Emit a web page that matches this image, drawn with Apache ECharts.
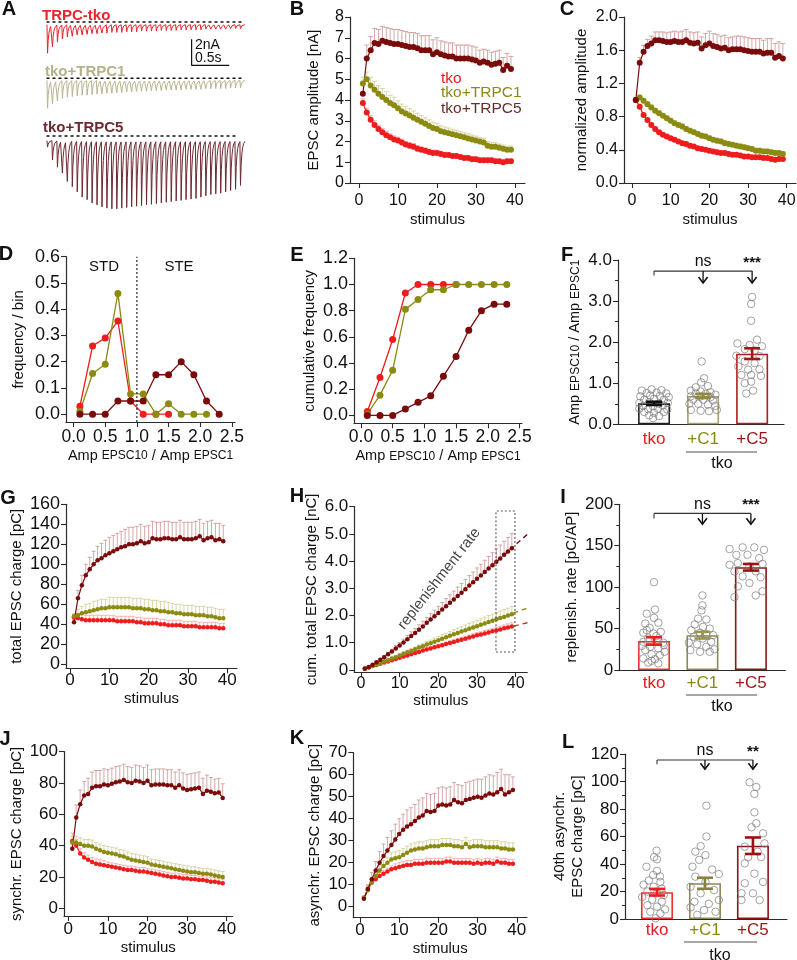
<!DOCTYPE html>
<html><head><meta charset="utf-8">
<script src="https://cdn.jsdelivr.net/npm/echarts@6/dist/echarts.min.js"></script>
<style>html,body{margin:0;padding:0;background:#fff}#c{width:797px;height:960px}</style>
</head><body><div id="c"></div>
<script>
// ---------------- DATA ----------------
const stimulus = Array.from({length: 39}, (_, i) => i + 1);
const groups = ['tko', '+C1', '+C5'];

// A: representative traces, peak current per stimulus (nA, below baseline)
const traceTkoPeaks = [2.4,1.9,1.55,1.3,1.15,1.1,1.0,1.0,0.95,0.9,0.9,0.85,0.85,0.8,0.8,0.8,0.75,0.75,0.75,0.7,0.7,0.7,0.7,0.65,0.65,0.65,0.65,0.6,0.6,0.6,0.6,0.6,0.55,0.55,0.55,0.55,0.55,0.5,0.5,0.5];
const traceC1Peaks = [2.3,1.95,1.75,1.55,1.45,1.4,1.35,1.3,1.3,1.25,1.2,1.2,1.15,1.15,1.1,1.1,1.05,1.05,1.0,1.0,1.0,0.95,0.95,0.95,0.9,0.9,0.9,0.9,0.85,0.85,0.85,0.85,0.8,0.8,0.8,0.8,0.8,0.75,0.75,0.75];
const traceC5Peaks = [0.85,1.85,2.4,2.85,3.5,3.9,4.3,4.7,4.9,5.15,5.3,5.45,5.55,5.6,5.6,5.55,5.5,5.45,5.4,5.35,5.3,5.25,5.2,5.15,5.1,5.05,5.0,4.95,4.9,4.85,4.8,4.7,4.6,4.5,4.45,4.4,4.3,4.2,4.1,3.8];
const traceBaselines = [-0.2, -0.15, -0.35];
const epscShape = [0, 1, 0.55, 0.3, 0.16, 0.07, 0.02];
const epscTime = [0, 0.12, 0.25, 0.4, 0.55, 0.75, 1.0];
const scaleBarAmp = 2, scaleBarDur = 0.5;

// B: EPSC amplitude (nA)
const ampTko = [3.85,3.4,3.05,2.8,2.6,2.45,2.3,2.2,2.1,2.05,1.95,1.85,1.8,1.75,1.65,1.6,1.55,1.5,1.45,1.45,1.4,1.35,1.35,1.3,1.3,1.25,1.2,1.2,1.15,1.15,1.1,1.1,1.1,1.1,1.05,1.05,1.0,1.05,1.05];
const ampTkoErr = [0.2,0.2,0.2,0.2,0.18,0.18,0.18,0.17,0.17,0.16,0.16,0.15,0.15,0.15,0.15,0.14,0.14,0.14,0.13,0.13,0.13,0.13,0.12,0.12,0.12,0.12,0.12,0.12,0.11,0.11,0.11,0.11,0.11,0.11,0.1,0.1,0.1,0.1,0.1];
const ampC1 = [4.8,5.0,4.7,4.5,4.3,4.15,4.0,3.85,3.75,3.6,3.45,3.35,3.25,3.15,3.05,2.95,2.85,2.75,2.65,2.6,2.5,2.45,2.4,2.35,2.3,2.25,2.2,2.15,2.1,2.05,2.0,1.95,1.8,1.75,1.75,1.7,1.65,1.6,1.6];
const ampC1Err = [0.3,0.35,0.4,0.4,0.4,0.4,0.4,0.38,0.38,0.36,0.35,0.34,0.33,0.32,0.31,0.3,0.3,0.29,0.28,0.27,0.26,0.25,0.25,0.24,0.24,0.23,0.22,0.22,0.21,0.21,0.2,0.2,0.2,0.19,0.19,0.18,0.18,0.18,0.18];
const ampC5 = [4.3,6.0,6.4,6.75,6.7,6.85,6.8,6.75,6.7,6.7,6.65,6.6,6.55,6.55,6.5,6.4,6.4,6.4,6.2,6.3,6.2,6.15,6.1,6.1,6.0,6.0,6.0,6.0,5.95,5.9,5.8,5.85,5.8,5.7,5.75,5.8,5.45,5.65,5.5];
const ampC5Err = [0.05,0.65,0.65,0.7,0.7,0.7,0.7,0.7,0.7,0.7,0.7,0.7,0.7,0.7,0.7,0.7,0.7,0.7,0.7,0.7,0.65,0.65,0.65,0.65,0.65,0.65,0.65,0.65,0.65,0.65,0.6,0.6,0.6,0.6,0.6,0.6,0.6,0.6,0.6];

// C: normalized amplitude
const normTko = [1.0,0.92,0.82,0.76,0.70,0.65,0.61,0.58,0.56,0.54,0.52,0.50,0.48,0.47,0.45,0.44,0.42,0.41,0.40,0.39,0.38,0.37,0.36,0.36,0.35,0.34,0.34,0.33,0.32,0.32,0.31,0.31,0.31,0.30,0.30,0.29,0.28,0.29,0.29];
const normTkoErr = [0.01,0.02,0.02,0.02,0.02,0.02,0.02,0.02,0.02,0.02,0.02,0.02,0.02,0.02,0.02,0.02,0.02,0.02,0.02,0.02,0.02,0.02,0.02,0.02,0.02,0.02,0.02,0.02,0.02,0.02,0.02,0.02,0.02,0.02,0.02,0.02,0.02,0.02,0.02];
const normC1 = [1.0,1.03,0.99,0.95,0.91,0.87,0.84,0.81,0.78,0.75,0.72,0.70,0.68,0.65,0.63,0.61,0.59,0.57,0.56,0.54,0.52,0.51,0.50,0.48,0.47,0.46,0.45,0.44,0.43,0.42,0.41,0.39,0.39,0.38,0.38,0.37,0.36,0.36,0.35];
const normC1Err = [0.01,0.03,0.03,0.03,0.03,0.03,0.03,0.03,0.03,0.03,0.03,0.03,0.03,0.03,0.03,0.03,0.03,0.03,0.03,0.03,0.03,0.03,0.03,0.03,0.03,0.03,0.03,0.03,0.03,0.03,0.03,0.03,0.03,0.03,0.03,0.03,0.03,0.03,0.03];
const normC5 = [1.0,1.45,1.58,1.65,1.68,1.72,1.72,1.71,1.70,1.70,1.71,1.70,1.70,1.72,1.69,1.68,1.69,1.62,1.66,1.68,1.65,1.64,1.62,1.63,1.60,1.61,1.61,1.61,1.60,1.59,1.58,1.58,1.58,1.56,1.57,1.57,1.51,1.53,1.50];
const normC5Err = [0.01,0.06,0.08,0.08,0.09,0.1,0.1,0.11,0.11,0.12,0.12,0.12,0.13,0.13,0.13,0.13,0.13,0.14,0.14,0.15,0.15,0.15,0.15,0.15,0.15,0.15,0.16,0.16,0.16,0.16,0.16,0.16,0.16,0.16,0.17,0.17,0.17,0.17,0.18];

// D, E: frequency distributions of Amp EPSC10 / Amp EPSC1
const binCenters = [0.1,0.3,0.5,0.7,0.9,1.1,1.3,1.5,1.7,1.9,2.1,2.3];
const freqTko = [0.03,0.26,0.29,0.355,0.05,0.0,0.0,0.0];
const freqC1 = [0.01,0.155,0.19,0.46,0.077,0.077,0.0,0.04,0.0,0.0,0.0];
const freqC5 = [0,0,0,0.05,0.05,0.05,0.15,0.15,0.2,0.15,0.05,0.0];
const cumTko = [0.03,0.29,0.58,0.935,1.0,1.0,1.0,1.0];
const cumC1 = [0.01,0.155,0.345,0.81,0.885,0.96,0.96,1.0,1.0,1.0,1.0,1.0];
const cumC5 = [0,0,0,0.05,0.1,0.15,0.3,0.45,0.65,0.8,0.85,0.85];

// F: Amp EPSC10 / Amp EPSC1 per cell  ([group position, value])
const ratioMean = [0.51, 0.69, 1.72];
const ratioSem = [0.04, 0.05, 0.13];
const ratioTko = [[0.75,0.82],[0.95,0.85],[1.15,0.83],[0.85,0.76],[1.05,0.77],[1.25,0.75],[0.72,0.68],[0.92,0.7],[1.12,0.69],[1.3,0.66],[0.8,0.6],[1.0,0.62],[1.2,0.6],[0.7,0.52],[0.9,0.54],[1.1,0.5],[1.28,0.52],[0.78,0.45],[0.98,0.44],[1.18,0.46],[0.7,0.38],[0.88,0.37],[1.08,0.38],[1.27,0.36],[0.8,0.3],[1.0,0.28],[1.2,0.3],[0.9,0.22],[1.1,0.2],[0.98,0.15]];
const ratioC1 = [[1.97,1.53],[2.02,1.12],[1.96,1.02],[1.85,0.9],[2.1,0.93],[1.75,0.82],[1.95,0.8],[2.15,0.78],[1.85,0.75],[2.05,0.74],[2.25,0.72],[1.75,0.68],[1.95,0.68],[2.15,0.66],[1.8,0.6],[2.0,0.6],[2.2,0.58],[1.72,0.5],[1.9,0.5],[2.1,0.48],[2.25,0.45],[1.75,0.35],[1.95,0.33],[2.12,0.32],[2.28,0.35]];
const ratioC5 = [[3.0,3.10],[2.98,2.93],[2.98,2.52],[3.1,2.06],[2.7,1.97],[2.95,1.93],[3.2,1.9],[2.85,1.83],[3.05,1.8],[2.68,1.67],[3.15,1.66],[2.85,1.53],[3.05,1.49],[2.72,1.41],[3.15,1.34],[2.92,1.33],[2.78,1.2],[2.98,1.2],[3.18,1.18],[2.98,1.04],[2.85,1.0],[3.02,0.82],[2.88,0.75]];

// G: total EPSC charge (pC)
const totTko = [47,46,45,44,44,44,44,44,44,44,44,43,43,43,43,43,42,42,41,41,41,41,40,40,39,39,39,39,38,38,38,38,37,37,37,37,37,36,36];
const totTkoErr = [3,5,5,5,5,5,5,5,5,5,5,5,5,5,5,5,5,5,5,5,5,5,5,5,5,5,5,5,5,5,5,5,5,5,5,5,5,5,5];
const totC1 = [48,49,51,52,53,54,55,56,56,57,57,57,57,57,57,56,56,56,55,55,54,54,53,53,52,52,51,51,50,50,50,49,49,49,48,48,47,46,46];
const totC1Err = [3,6,7,8,8,9,9,9,9,10,10,10,10,10,10,10,10,10,10,10,10,10,10,10,10,9,9,9,9,9,9,9,9,9,9,9,9,9,9];
const totC5 = [42,66,79,89,95,100,104,106,109,111,113,115,117,118,120,120,121,123,121,122,126,125,125,126,126,125,125,127,125,125,125,126,128,124,126,127,124,125,123];
const totC5Err = [3,8,10,11,12,13,14,15,15,16,16,16,16,17,17,17,17,17,17,17,17,17,17,17,17,17,17,17,17,17,17,17,17,17,17,17,17,16,16];

// H: cumulative total EPSC charge (nC)
const cumChTko = [0.05,0.09,0.14,0.18,0.23,0.27,0.31,0.36,0.40,0.45,0.49,0.53,0.58,0.62,0.66,0.71,0.75,0.79,0.83,0.87,0.91,0.95,0.99,1.03,1.07,1.11,1.15,1.19,1.23,1.27,1.30,1.34,1.38,1.42,1.45,1.49,1.53,1.56,1.60];
const cumChTkoErr = [0.005,0.01,0.01,0.01,0.02,0.02,0.02,0.03,0.03,0.03,0.04,0.04,0.04,0.05,0.05,0.05,0.06,0.06,0.06,0.07,0.07,0.07,0.08,0.08,0.08,0.09,0.09,0.09,0.1,0.1,0.1,0.11,0.11,0.11,0.12,0.12,0.12,0.13,0.13];
const cumChC1 = [0.05,0.10,0.15,0.20,0.25,0.31,0.36,0.42,0.47,0.53,0.59,0.65,0.70,0.76,0.82,0.87,0.93,0.98,1.04,1.09,1.15,1.20,1.26,1.31,1.36,1.41,1.46,1.51,1.56,1.61,1.66,1.71,1.76,1.81,1.86,1.91,1.95,2.00,2.05];
const cumChC1Err = [0.005,0.01,0.02,0.02,0.03,0.04,0.04,0.05,0.06,0.06,0.07,0.08,0.09,0.09,0.1,0.11,0.12,0.12,0.13,0.14,0.15,0.15,0.16,0.17,0.18,0.18,0.19,0.2,0.21,0.21,0.22,0.23,0.24,0.24,0.25,0.26,0.27,0.27,0.28];
const cumChC5 = [0.04,0.11,0.19,0.28,0.37,0.47,0.58,0.68,0.79,0.90,1.01,1.13,1.25,1.36,1.48,1.60,1.73,1.85,1.97,2.09,2.22,2.34,2.47,2.59,2.72,2.84,2.97,3.10,3.22,3.35,3.47,3.60,3.73,3.85,3.98,4.10,4.23,4.35,4.47];
const cumChC5Err = [0.005,0.02,0.03,0.04,0.05,0.06,0.07,0.08,0.1,0.11,0.12,0.14,0.15,0.16,0.18,0.19,0.2,0.22,0.23,0.25,0.26,0.28,0.29,0.31,0.32,0.34,0.35,0.37,0.38,0.4,0.41,0.43,0.44,0.46,0.47,0.49,0.5,0.52,0.54];
const replenFit = {tko: [[35,1.45],[43.7,1.76]], c1: [[35,1.86],[43.7,2.31]], c5: [[35,3.98],[43.7,5.07]]};
const steadyWindow = [34.9, 39.8, 0.66, 5.84];

// I: replenishment rate (pC/AP)
const replMean = [35, 42, 124];
const replSem = [4.5, 4, 4];
const replTko = [[1.0,106],[1.02,73],[0.85,68],[1.0,63],[1.09,57],[0.82,56],[0.91,51],[1.14,46],[0.78,45],[0.99,44],[0.88,38],[1.09,36],[0.78,34],[1.19,33],[0.92,28],[1.09,26],[0.82,24],[1.22,22],[0.95,19],[1.12,18],[0.78,14],[1.02,13],[0.88,9],[1.09,8],[0.95,11],[1.2,30],[0.75,29],[1.05,41],[0.85,48]];
const replC1 = [[2.0,90],[2.0,78],[1.98,72],[1.91,62],[2.08,61],[1.84,55],[2.01,52],[2.15,50],[1.77,48],[1.95,45],[2.08,43],[2.22,42],[1.82,40],[2.01,38],[2.18,34],[1.72,33],[1.89,31],[2.08,28],[2.25,25],[1.75,24],[1.95,22],[2.15,22]];
const replC5 = [[2.56,146],[2.83,148],[3.07,148],[3.27,145],[2.7,139],[2.93,139],[3.17,135],[2.73,129],[2.56,127],[3.24,128],[2.97,125],[2.66,119],[3.1,119],[2.83,113],[3.2,112],[2.97,105],[2.73,101],[3.24,95],[2.66,88],[3.1,90]];

// J: synchronous EPSC charge (pC)
const synTko = [43,40,35,32.5,31,29.5,28.5,28,27.5,27,26.5,26,25.5,25,24.5,24.5,24,23.5,23.5,23,22.5,22,21.5,21,20.5,20,20,19.5,19,19,18.5,18.5,18,18,17.5,17,17,16.5,16];
const synTkoErr = [5,4,3,3,3,3,3,3,3,2.5,2.5,2.5,2.5,2.5,2.5,2.5,2.5,2.5,2.5,2.5,2.5,2.5,2.5,2.5,2.5,2.5,2.5,2.5,2.5,2.5,2.5,2.5,2.5,2.5,2.5,2.5,2.5,2.5,2.5];
const synC1 = [42,42,41,40,40,39.5,38,37,36,35.5,35,34.5,33.5,33,32,31,30.5,30,29.5,29,28,27.5,27,26.5,26,25.5,25,24.5,24,23.5,23,23,22.5,22,22,21.5,21,20.5,20];
const synC1Err = [4,4,4,4,4,4,4,4,4,4,4,4,4,4,4,4,4,4,4,4,3.5,3.5,3.5,3.5,3.5,3.5,3.5,3.5,3.5,3.5,3.5,3.5,3.5,3.5,3.5,3.5,3.5,3.5,3.5];
const synC5 = [38,58,66.5,72,73,77,78,78,79,78.5,79.5,80.5,81,82,80.5,80,81.5,81,80,81.5,78.5,79,79,79,78.5,78.5,77,78.5,76.5,75.5,76,76.5,77,73,75,74.5,73.5,74,70.5];
const synC5Err = [4,8,9,9,10,10,10,10,10,10,10,10,10,10,10,10,10,10,10,10,10,10,10,10,10,10,10,10,10,10,10,10,10,10,10,9,9,9,9];

// K: asynchronous EPSC charge (pC)
const asyTko = [4,8,11,12.5,14,15,16,17,17.5,18,18.5,19,19,19.5,19.5,19.5,20,20,20,20,20,20.5,20.5,20,20,20,20,20,19.5,20,19.5,20,20,19.5,20.5,20,20,19.5,19.5];
const asyTkoErr = [1,1.5,1.5,1.5,1.5,1.5,1.5,1.5,2,2,2,2,2,2,2,2,2,2,2,2,2,2,2,2,2,2,2,2,2,2,2,2,2,2,2,2,2,2,2];
const asyC1 = [4,7.5,11,14,16.5,18.5,20,21.5,22,22.5,23.5,24.5,25.5,26,26.5,26.5,27,27.5,27.5,27.5,28,28,28,27.5,27.5,27,28.5,27,27.5,27.5,27.5,27,27,27,27,26.5,26.5,26,26];
const asyC1Err = [1,2,2,2.5,2.5,2.5,2.5,3,3,3,3,3,3,3,3,3,3,3,3,3,3,3,3,3,3,3,3,3,3,3,3,3,3,3,3,3,3,3,3];
const asyC5 = [3.6,8,12.5,16.5,20,23,25.5,28,30.5,33,35,36.5,37.5,39,40.5,41.5,43.5,43,43.5,46,46.5,46,46.5,48.5,47.5,47,48.5,49,49.5,50,49.5,50.5,51.5,51,52,53.5,51,52,53];
const asyC5Err = [1,2,3,4,5,5.5,6,6.5,7,7,7,7.5,7.5,7.5,8,8,8,8,8,8,8,8,8,8,8,8,8,8,8,8,8.5,8.5,8.5,8.5,9,9,9,8,6];

// L: 40th asynchronous EPSC charge (pC)
const async40Mean = [19.5, 26, 53.3];
const async40Sem = [2.4, 4, 6];
const async40Tko = [[0.99,49.7],[0.94,45],[1.0,43.4],[0.78,38],[1.0,35],[0.92,32],[1.06,31],[0.83,28],[1.07,27],[0.72,25],[0.93,23.5],[1.1,22],[0.8,20],[1.0,18.7],[1.14,17.5],[0.69,16],[0.9,14],[1.1,12.6],[0.8,10],[1.0,9],[1.17,7],[0.86,5.3],[1.07,4],[0.97,0.5]];
const async40C1 = [[2.03,82.4],[2.03,60],[1.91,53],[1.8,49],[2.01,46.5],[1.88,43],[1.74,38],[2.15,36],[2.29,32.7],[1.8,30.8],[2.01,27],[1.7,23.5],[2.19,21],[1.91,18.7],[2.29,13.8],[1.78,12.6],[2.08,11],[1.7,8.5],[1.98,6.5],[2.22,5.3],[1.84,3]];
const async40C5 = [[2.93,99.4],[3.07,96],[3.03,91],[3.03,77.6],[3.07,69.6],[2.97,66.7],[3.21,62.3],[3.24,55],[2.83,52.6],[3.1,49],[2.9,45],[3.17,45],[2.83,40.5],[3.03,33],[2.83,26],[3.21,27],[2.76,18.7],[3.0,18.7],[2.76,13.8],[3.14,13.8]];

// ---------------- STYLE ----------------
const FONT = '"Liberation Sans", Arial, Helvetica, sans-serif';
const AX = '#2a2a2a';
const COL = {tko: '#ee1d1d', c1: '#8b8b12', c5: '#7a0b0b'};
const ECOL = {tko: '#f3a4a4', c1: '#cfcd95', c5: '#c99292'};
const TRACE = {tko: '#e8242c', c1: '#b9b58e', c5: '#6c2a30'};
const LBL = {tko: '#e81a1a', c1: '#8a8a10', c5: '#9c1414'};
const ratioName = '{a|Amp }{b|EPSC10}{a| / Amp }{b|EPSC1}';
const ratioRich = {a: {fontSize: 14.5, fontFamily: FONT, color: '#111'}, b: {fontSize: 12, fontFamily: FONT, color: '#111'}};

const grids = [], xAxes = [], yAxes = [], series = [], graphics = [];

function addGrid(l, t, w, h) {
  grids.push({left: l, top: t, width: w, height: h, containLabel: false, outerBoundsMode: 'none'});
  return grids.length - 1;
}
function valAxis(gi, o) {
  const a = {
    type: 'value', gridIndex: gi, min: o.min, max: o.max,
    axisLine: {show: true, onZero: false, lineStyle: {color: AX, width: 1.2}},
    axisTick: {show: !o.noTick, length: 5, lineStyle: {color: AX, width: 1.1}},
    axisLabel: {margin: o.margin == null ? 6 : o.margin, color: '#111', fontSize: o.fs || 16, fontFamily: FONT},
    splitLine: {show: false},
    name: o.name || '', nameLocation: 'middle', nameGap: o.gap || 20,
    nameTextStyle: {color: '#111', fontSize: 15, fontFamily: FONT, lineHeight: 18}
  };
  if (o.nameRich) a.nameTextStyle.rich = o.nameRich;
  if (o.fmt) a.axisLabel.formatter = o.fmt;
  if (o.rich) a.axisLabel.rich = o.rich;
  if (o.vals) { a.axisTick.customValues = o.vals; a.axisLabel.customValues = o.vals; }
  if (o.interval) a.interval = o.interval;
  if (o.minor) a.minorTick = {show: true, splitNumber: 2, length: 3, lineStyle: {color: AX, width: 1}};
  return a;
}
function hiddenAxis(gi, min, max) { return {type: 'value', gridIndex: gi, min, max, show: false}; }

function lineDots(gi, xs, ys, color, size, lw) {
  return {type: 'line', xAxisIndex: gi, yAxisIndex: gi, data: xs.map((x, i) => [x, ys[i]]),
    symbol: 'circle', symbolSize: size, showSymbol: true, showAllSymbol: true,
    lineStyle: {color, width: lw}, itemStyle: {color, borderWidth: 0}, z: 4, silent: true};
}
function errBars(gi, xs, ys, es, color, cap) {
  return {type: 'custom', xAxisIndex: gi, yAxisIndex: gi, silent: true, z: 2,
    data: xs.map((x, i) => [x, ys[i], es[i]]), encode: {x: 0, y: 1},
    renderItem(params, api) {
      const x = api.value(0), y = api.value(1), e = api.value(2);
      const a = api.coord([x, y]), b = api.coord([x, y + e]);
      return {type: 'group', children: [
        {type: 'line', shape: {x1: a[0], y1: a[1], x2: b[0], y2: b[1]}, style: {stroke: color, lineWidth: 0.8}},
        {type: 'line', shape: {x1: b[0] - cap, y1: b[1], x2: b[0] + cap, y2: b[1]}, style: {stroke: color, lineWidth: 0.8}}
      ]};
    }};
}
function plainLine(gi, pts, color, width, type) {
  return {type: 'line', xAxisIndex: gi, yAxisIndex: gi, data: pts, symbol: 'none', silent: true, clip: false,
    lineStyle: {color, width, type: type || 'solid'}, z: 5};
}
function barPanel(gi, means, sems, dotsArr, borders, semCols) {
  series.push({type: 'bar', xAxisIndex: gi, yAxisIndex: gi, barWidth: 32, silent: true, z: 2,
    data: means.map((m, i) => ({value: [i + 1, m], itemStyle: {color: '#fff', borderColor: borders[i], borderWidth: 1.6}}))});
  series.push({type: 'scatter', xAxisIndex: gi, yAxisIndex: gi, silent: true, z: 3,
    data: [].concat(...dotsArr), symbolSize: 7.5,
    itemStyle: {color: 'rgba(255,255,255,0)', borderColor: '#7d7d7d', borderWidth: 0.9}});
  series.push({type: 'custom', xAxisIndex: gi, yAxisIndex: gi, silent: true, z: 4,
    data: means.map((m, i) => [i + 1, m, sems[i], i]), encode: {x: 0, y: 1},
    renderItem(params, api) {
      const x = api.value(0), m = api.value(1), s = api.value(2), c = semCols[api.value(3)];
      const t = api.coord([x, m + s]), b = api.coord([x, m - s]);
      const st = {stroke: c, lineWidth: 2.6};
      return {type: 'group', children: [
        {type: 'line', shape: {x1: t[0], y1: t[1], x2: b[0], y2: b[1]}, style: st},
        {type: 'line', shape: {x1: t[0] - 8, y1: t[1], x2: t[0] + 8, y2: t[1]}, style: st},
        {type: 'line', shape: {x1: b[0] - 8, y1: b[1], x2: b[0] + 8, y2: b[1]}, style: st}
      ]};
    }});
}
function sigMarks(gi, level, tick, tip, marks) {
  series.push({type: 'custom', xAxisIndex: gi, yAxisIndex: gi, silent: true, z: 6, clip: false,
    data: [[1, level]], encode: {x: 0, y: 1},
    renderItem(params, api) {
      const L = api.coord([1, level]), R = api.coord([3, level]), T = api.coord([1, tick]);
      const st = {stroke: '#333', lineWidth: 1.1};
      const ch = [
        {type: 'line', shape: {x1: T[0], y1: T[1], x2: L[0], y2: L[1]}, style: st},
        {type: 'line', shape: {x1: L[0], y1: L[1], x2: R[0], y2: R[1]}, style: st}
      ];
      marks.forEach(mk => {
        const a = api.coord([mk.x, level]), b = api.coord([mk.x, tip]);
        ch.push({type: 'line', shape: {x1: a[0], y1: a[1], x2: b[0], y2: b[1]}, style: {stroke: '#111', lineWidth: 1.3}});
        ch.push({type: 'polyline', shape: {points: [[b[0] - 4.5, b[1] - 6], [b[0], b[1]], [b[0] + 4.5, b[1] - 6]]},
          style: {stroke: '#111', lineWidth: 1.6, fill: 'none'}});
        ch.push({type: 'text', x: a[0], y: a[1] - 1,
          style: {text: mk.text, fill: '#111', font: (mk.bold ? 'bold 15px ' : '16px ') + FONT,
            align: 'center', verticalAlign: 'bottom', textAlign: 'center', textVerticalAlign: 'bottom'}});
      });
      return {type: 'group', children: ch};
    }});
}
function txt(x, y, s, o) {
  graphics.push({type: 'text', x, y, silent: true,
    style: Object.assign({text: s, fill: '#111', font: '15px ' + FONT,
      align: 'left', verticalAlign: 'middle', textAlign: 'left', textVerticalAlign: 'middle'}, o || {})});
}
function hline(x1, x2, y, color, w) {
  graphics.push({type: 'line', silent: true, shape: {x1, y1: y, x2, y2: y}, style: {stroke: color, lineWidth: w}});
}

// ---------------- PANEL A: traces ----------------
const T_FIRST = 0.026, T_ISI = 0.0658, T_MAX = 2.66;
function buildTrace(peaks, base) {
  const pts = [];
  peaks.forEach((p, i) => {
    const t0 = T_FIRST + i * T_ISI;
    epscTime.forEach((f, k) => {
      if (i > 0 && k === 0) return;
      pts.push([t0 + f * T_ISI, base + (-p - base) * epscShape[k]]);
    });
  });
  return pts;
}
const traceSets = [
  {peaks: traceTkoPeaks, color: TRACE.tko, grid: [45, 16.8, 200, 50.7], y: [-3.5, 0.4], dashEnd: 2.63},
  {peaks: traceC1Peaks, color: TRACE.c1, grid: [45, 73.1, 200, 39], y: [-2.6, 0.4], dashEnd: 2.63},
  {peaks: traceC5Peaks, color: TRACE.c5, grid: [45, 130.8, 200, 83.2], y: [-6, 0.4], dashEnd: 2.57}
];
traceSets.forEach((ts, k) => {
  const gi = addGrid(...ts.grid);
  xAxes.push(hiddenAxis(gi, 0, T_MAX));
  yAxes.push(hiddenAxis(gi, ts.y[0], ts.y[1]));
  series.push(plainLine(gi, buildTrace(ts.peaks, traceBaselines[k]), ts.color, 1.0));
  series.push(plainLine(gi, [[0.02, 0], [ts.dashEnd, 0]], '#111', 1.5, [3, 3]));
});
// scale bar (in first trace's coordinates)
series.push(plainLine(0, [[1.95, -1.33], [1.95, -1.33 - scaleBarAmp], [1.95 + scaleBarDur, -1.33 - scaleBarAmp]], '#111', 1.2));
txt(42, 15.5, 'TRPC-tko', {fill: '#e8242c', font: 'bold 15px ' + FONT});
txt(45, 72, 'tko+TRPC1', {fill: '#b5b28a', font: 'bold 15px ' + FONT});
txt(43, 128, 'tko+TRPC5', {fill: '#6c2a30', font: 'bold 15px ' + FONT});
txt(195, 45, '2nA', {font: '14px ' + FONT});
txt(195, 58, '0.5s', {font: '14px ' + FONT});

// ---------------- PANEL B ----------------
const fix1 = v => v.toFixed(1);
const stimTicks = [0, 10, 20, 30, 40];
let gi = addGrid(350, 17, 175, 166);
xAxes.push(valAxis(gi, {min: -2.3, max: 42.6, vals: stimTicks, name: 'stimulus', gap: 28, margin: 10}));
yAxes.push(valAxis(gi, {min: 0, max: 8, interval: 1, name: 'EPSC amplitude [nA]', gap: 27}));
series.push(errBars(gi, stimulus, ampTko, ampTkoErr, ECOL.tko, 2.5));
series.push(errBars(gi, stimulus, ampC1, ampC1Err, ECOL.c1, 2.5));
series.push(errBars(gi, stimulus, ampC5, ampC5Err, ECOL.c5, 2.5));
series.push(lineDots(gi, stimulus, ampTko, COL.tko, 6, 1.2));
series.push(lineDots(gi, stimulus, ampC1, COL.c1, 6, 1.2));
series.push(lineDots(gi, stimulus, ampC5, COL.c5, 6, 1.2));
txt(441, 79, 'tko', {fill: LBL.tko, font: '15.5px ' + FONT});
txt(441, 93, 'tko+TRPC1', {fill: COL.c1, font: '15.5px ' + FONT});
txt(441, 109, 'tko+TRPC5', {fill: '#6e2a2a', font: '15.5px ' + FONT});

// ---------------- PANEL C ----------------
gi = addGrid(624, 17, 172, 166);
xAxes.push(valAxis(gi, {min: -2.06, max: 42.4, vals: stimTicks, name: 'stimulus', gap: 28, margin: 10}));
yAxes.push(valAxis(gi, {min: 0, max: 2, interval: 0.4, fmt: fix1, name: 'normalized amplitude', gap: 33}));
series.push(errBars(gi, stimulus, normTko, normTkoErr, ECOL.tko, 2.5));
series.push(errBars(gi, stimulus, normC1, normC1Err, ECOL.c1, 2.5));
series.push(errBars(gi, stimulus, normC5, normC5Err, ECOL.c5, 2.5));
series.push(lineDots(gi, stimulus, normTko, COL.tko, 6, 1.2));
series.push(lineDots(gi, stimulus, normC1, COL.c1, 6, 1.2));
series.push(lineDots(gi, stimulus, normC5, COL.c5, 6, 1.2));

// ---------------- PANEL D ----------------
const ratioTicks = [0, 0.5, 1, 1.5, 2, 2.5];
gi = addGrid(66, 256.7, 169, 165.3);
xAxes.push(valAxis(gi, {min: -0.12, max: 2.55, vals: ratioTicks, fmt: fix1, fs: 17.5, name: ratioName, nameRich: ratioRich, gap: 23, margin: 6}));
yAxes.push(valAxis(gi, {min: -0.03, max: 0.6, vals: [0, 0.1, 0.2, 0.3, 0.4, 0.5, 0.6], fmt: fix1, fs: 18, name: 'frequency / bin', gap: 38}));
series.push(plainLine(gi, [[1, -0.03], [1, 0.6]], '#111', 1.1, [2, 2]));
series.push(lineDots(gi, binCenters.slice(0, freqTko.length), freqTko, COL.tko, 7, 1.3));
series.push(lineDots(gi, binCenters.slice(0, freqC1.length), freqC1, COL.c1, 7, 1.3));
series.push(lineDots(gi, binCenters.slice(0, freqC5.length), freqC5, COL.c5, 7, 1.3));
txt(104, 267, 'STD', {align: 'center', textAlign: 'center'});
txt(179, 267, 'STE', {align: 'center', textAlign: 'center'});

// ---------------- PANEL E ----------------
gi = addGrid(354, 258.3, 168, 165);
xAxes.push(valAxis(gi, {min: -0.11, max: 2.54, vals: ratioTicks, fmt: fix1, fs: 17.5, name: ratioName, nameRich: ratioRich, gap: 23, margin: 5}));
yAxes.push(valAxis(gi, {min: -0.06, max: 1.2, vals: [0, 0.2, 0.4, 0.6, 0.8, 1.0, 1.2], fmt: fix1, fs: 18, name: 'cumulative frequency', gap: 30}));
series.push(lineDots(gi, binCenters.slice(0, cumTko.length), cumTko, COL.tko, 7, 1.3));
series.push(lineDots(gi, binCenters.slice(0, cumC1.length), cumC1, COL.c1, 7, 1.3));
series.push(lineDots(gi, binCenters.slice(0, cumC5.length), cumC5, COL.c5, 7, 1.3));

// ---------------- bar axes helper ----------------
const grpFmt = v => { const i = Math.round(v); return '{g' + i + '|' + groups[i - 1] + '}'; };
const grpRich = {g1: {color: LBL.tko, fontSize: 17, fontFamily: FONT}, g2: {color: LBL.c1, fontSize: 17, fontFamily: FONT}, g3: {color: LBL.c5, fontSize: 17, fontFamily: FONT}};

// ---------------- PANEL F ----------------
gi = addGrid(618, 260, 166, 164.3);
xAxes.push(valAxis(gi, {min: 0.265, max: 3.65, vals: [1, 2, 3], fmt: grpFmt, rich: grpRich, noTick: true, margin: 7}));
yAxes.push(valAxis(gi, {min: 0, max: 4, interval: 1, fmt: fix1, fs: 17, minor: true, name: ratioName, nameRich: ratioRich, gap: 33}));
barPanel(gi, ratioMean, ratioSem, [ratioTko, ratioC1, ratioC5], ['#222', '#a89e6c', '#b41c1c'], ['#111', '#8f8a3a', '#a01818']);
sigMarks(gi, 3.73, 3.62, 3.44, [{x: 2, text: 'ns'}, {x: 3, text: '***', bold: true}]);
hline(686, 757, 452, '#8a8a8a', 1.5);
txt(722, 464, 'tko', {align: 'center', textAlign: 'center', font: '16px ' + FONT});

// ---------------- PANEL G ----------------
gi = addGrid(66, 504.3, 171, 164);
xAxes.push(valAxis(gi, {min: -1.04, max: 42.5, vals: stimTicks, fs: 17, name: 'stimulus', gap: 20, margin: 4}));
yAxes.push(valAxis(gi, {min: -4, max: 160, vals: [0, 20, 40, 60, 80, 100, 120, 140, 160], fs: 18, name: 'total EPSC charge [pC]', gap: 38}));
series.push(errBars(gi, stimulus, totTko, totTkoErr, ECOL.tko, 2));
series.push(errBars(gi, stimulus, totC1, totC1Err, ECOL.c1, 2));
series.push(errBars(gi, stimulus, totC5, totC5Err, ECOL.c5, 2));
series.push(lineDots(gi, stimulus, totTko, COL.tko, 4.5, 1.2));
series.push(lineDots(gi, stimulus, totC1, COL.c1, 4.5, 1.2));
series.push(lineDots(gi, stimulus, totC5, COL.c5, 4.5, 1.2));

// ---------------- PANEL H ----------------
gi = addGrid(354.3, 506.7, 173, 165.4);
xAxes.push(valAxis(gi, {min: -1.73, max: 43, vals: stimTicks, name: 'stimulus', gap: 18, margin: 3}));
yAxes.push(valAxis(gi, {min: -0.08, max: 6, vals: [0, 1, 2, 3, 4, 5, 6], fmt: v => v === 0 ? '0' : v.toFixed(1), fs: 17, name: 'cum. total EPSC charge [nC]', gap: 29}));
series.push(errBars(gi, stimulus, cumChTko, cumChTkoErr, ECOL.tko, 2));
series.push(errBars(gi, stimulus, cumChC1, cumChC1Err, ECOL.c1, 2));
series.push(errBars(gi, stimulus, cumChC5, cumChC5Err, ECOL.c5, 2));
series.push(lineDots(gi, stimulus, cumChTko, COL.tko, 4.5, 0.8));
series.push(lineDots(gi, stimulus, cumChC1, COL.c1, 4.5, 0.8));
series.push(lineDots(gi, stimulus, cumChC5, COL.c5, 4.5, 0.8));
series.push(plainLine(gi, replenFit.tko, COL.tko, 1.4, [5, 4]));
series.push(plainLine(gi, replenFit.c1, COL.c1, 1.4, [5, 4]));
series.push(plainLine(gi, replenFit.c5, COL.c5, 1.4, [5, 4]));
series.push(plainLine(gi, [[steadyWindow[0], steadyWindow[2]], [steadyWindow[1], steadyWindow[2]], [steadyWindow[1], steadyWindow[3]], [steadyWindow[0], steadyWindow[3]], [steadyWindow[0], steadyWindow[2]]], '#555', 1.1, [2, 2]));
series.push({type: 'scatter', xAxisIndex: gi, yAxisIndex: gi, silent: true, symbolSize: 0, z: 7,
  data: [[20.2, 3.35]], label: {show: true, formatter: 'replenishment rate', rotate: 52, position: 'inside',
    color: '#111', fontSize: 15, fontFamily: FONT}});

// ---------------- PANEL I ----------------
gi = addGrid(619.3, 504.3, 166, 165.7);
xAxes.push(valAxis(gi, {min: 0.284, max: 3.71, vals: [1, 2, 3], fmt: grpFmt, rich: grpRich, noTick: true, margin: 5}));
yAxes.push(valAxis(gi, {min: 0, max: 200, interval: 50, minor: true, fs: 17, name: 'replenish. rate [pC/AP]', gap: 30}));
barPanel(gi, replMean, replSem, [replTko, replC1, replC5], ['#f03030', '#8f8858', '#8c1616'], ['#e82020', '#9a9450', '#a01010']);
sigMarks(gi, 189, 183, 176, [{x: 2, text: 'ns'}, {x: 3, text: '***', bold: true}]);
hline(686, 757, 695, '#8a8a8a', 1.5);
txt(722, 707, 'tko', {align: 'center', textAlign: 'center', font: '16px ' + FONT});

// ---------------- PANEL J ----------------
gi = addGrid(64, 751.7, 168.6, 164.4);
xAxes.push(valAxis(gi, {min: -1.09, max: 41.5, vals: stimTicks, fs: 17, name: 'stimulus', gap: 23, margin: 5}));
yAxes.push(valAxis(gi, {min: -5, max: 100, vals: [0, 20, 40, 60, 80, 100], fs: 17, name: 'synchr. EPSC charge [pC]', gap: 33}));
series.push(errBars(gi, stimulus, synTko, synTkoErr, ECOL.tko, 2));
series.push(errBars(gi, stimulus, synC1, synC1Err, ECOL.c1, 2));
series.push(errBars(gi, stimulus, synC5, synC5Err, ECOL.c5, 2));
series.push(lineDots(gi, stimulus, synTko, COL.tko, 4.5, 1.2));
series.push(lineDots(gi, stimulus, synC1, COL.c1, 4.5, 1.2));
series.push(lineDots(gi, stimulus, synC5, COL.c5, 4.5, 1.2));

// ---------------- PANEL K ----------------
gi = addGrid(353.3, 752.7, 173.7, 165);
xAxes.push(valAxis(gi, {min: -1.71, max: 42.6, vals: stimTicks, fs: 17, name: 'stimulus', gap: 21, margin: 4}));
yAxes.push(valAxis(gi, {min: -5, max: 70, vals: [0, 10, 20, 30, 40, 50, 60, 70], fs: 17, name: 'asynchr. EPSC charge [pC]', gap: 29}));
series.push(errBars(gi, stimulus, asyTko, asyTkoErr, ECOL.tko, 2));
series.push(errBars(gi, stimulus, asyC1, asyC1Err, ECOL.c1, 2));
series.push(errBars(gi, stimulus, asyC5, asyC5Err, ECOL.c5, 2));
series.push(lineDots(gi, stimulus, asyTko, COL.tko, 4.5, 1.2));
series.push(lineDots(gi, stimulus, asyC1, COL.c1, 4.5, 1.2));
series.push(lineDots(gi, stimulus, asyC5, COL.c5, 4.5, 1.2));

// ---------------- PANEL L ----------------
gi = addGrid(625, 754, 162, 165);
xAxes.push(valAxis(gi, {min: 0.333, max: 3.71, vals: [1, 2, 3], fmt: grpFmt, rich: grpRich, noTick: true, margin: 3}));
yAxes.push(valAxis(gi, {min: 0, max: 120, interval: 20, minor: true, fs: 17, name: '40th asynchr.\nEPSC charge [pC]', gap: 38}));
barPanel(gi, async40Mean, async40Sem, [async40Tko, async40C1, async40C5], ['#f03030', '#8f8858', '#8c1616'], ['#e82020', '#8a8040', '#a01010']);
sigMarks(gi, 115.6, 112.5, 108.9, [{x: 2, text: 'ns'}, {x: 3, text: '**', bold: true}]);
hline(684, 757, 942, '#8a8a8a', 1.5);
txt(720, 956, 'tko', {align: 'center', textAlign: 'center', font: '16px ' + FONT});

// ---------------- panel letters ----------------
[['A', 9, 9], ['B', 297, 9], ['C', 567, 9], ['D', 6, 254], ['E', 297, 255], ['F', 567, 255],
 ['G', 8, 498], ['H', 297, 496], ['I', 563, 497], ['J', 5, 739], ['K', 297, 738], ['L', 568, 742]]
  .forEach(p => txt(p[1], p[2], p[0], {font: 'bold 20px ' + FONT, align: 'center', textAlign: 'center'}));

// ---------------- RENDER ----------------
const chart = echarts.init(document.getElementById('c'), null, {renderer: 'canvas', width: 797, height: 960});
chart.setOption({
  animation: false,
  backgroundColor: '#ffffff',
  textStyle: {fontFamily: FONT},
  grid: grids, xAxis: xAxes, yAxis: yAxes, series: series, graphic: graphics
});
</script></body></html>
